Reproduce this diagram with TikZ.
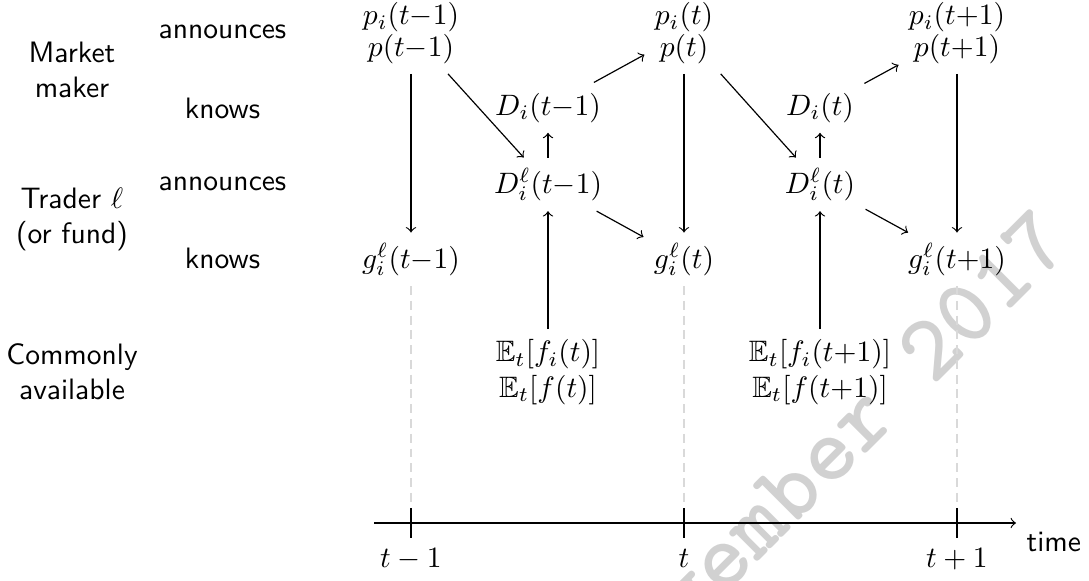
\documentclass[tikz,border=0pt]{standalone}
\usepackage{amssymb}
\usepackage{fontspec}
\begin{document}
\begin{tikzpicture}[x=0.0119cm, y=-0.0119cm,
  lab/.style={font=\sffamily, inner sep=0pt, anchor=base},
  grp/.style={font=\sffamily, align=center, inner sep=0pt},
  mth/.style={anchor=base},
  two/.style={align=center},
  arr/.style={->},
  guide/.style={black!15, densely dashed},
  tick/.style={black},
  wm/.style={rotate=45, anchor=base east, inner sep=0pt, text=black!18,
    font=\ttfamily\bfseries\fontsize{32}{34}\selectfont}]
\useasboundingbox (0,0) rectangle (1089,580);

% watermark
\begin{scope}
\clip (0,0) rectangle (1089,580);
\node[wm] (wm) at (1074,246) {November 2017};
\end{scope}

% row / group labels
\node[grp] (mm) at (72,70) {Market\\maker};
\node[grp] (tr) at (72,219.5) {Trader $\ell$\\(or fund)};
\node[grp] (ca) at (72,371.5) {Commonly\\available};
\node[lab] (an1) at (222.5,38) {announces};
\node[lab] (kn1) at (222.5,118) {knows};
\node[lab] (an2) at (222.5,190) {announces};
\node[lab] (kn2) at (222.5,268) {knows};

% prices
\node[two] (p1) at (411,33) {$p_i(t{-}1)$\\[-1.4pt]$p(t{-}1)$};
\node[two] (p2) at (684,33) {$p_i(t)$\\[-1.4pt]$p(t)$};
\node[two] (p3) at (957,33) {$p_i(t{+}1)$\\[-1.4pt]$p(t{+}1)$};

% market maker knows
\node[mth] (D1) at (548,115) {$D_i(t{-}1)$};
\node[mth] (D2) at (820,115) {$D_i(t)$};

% trader announces
\node[mth] (Dl1) at (548,193) {$D_i^\ell(t{-}1)$};
\node[mth] (Dl2) at (820,193) {$D_i^\ell(t)$};

% trader knows
\node[mth] (g1) at (411,268) {$g_i^\ell(t{-}1)$};
\node[mth] (g2) at (684,268) {$g_i^\ell(t)$};
\node[mth] (g3) at (957,268) {$g_i^\ell(t{+}1)$};

% commonly available
\node[two] (E1) at (548,372) {$\mathbb{E}_t[f_i(t)]$\\$\mathbb{E}_t[f(t)]$};
\node[two] (E2) at (820,372) {$\mathbb{E}_t[f_i(t{+}1)]$\\$\mathbb{E}_t[f(t{+}1)]$};

% time axis
\coordinate (ax0) at (374,523);
\coordinate (ax1) at (1016,523);
\draw[->] (ax0) -- (ax1);
\coordinate (k1a) at (411,508); \coordinate (k1b) at (411,538);
\coordinate (k2a) at (684,508); \coordinate (k2b) at (684,538);
\coordinate (k3a) at (957,508); \coordinate (k3b) at (957,538);
\draw[guide] (g1) -- (k1a);
\draw[guide] (g2) -- (k2a);
\draw[guide] (g3) -- (k3a);
\draw[tick] (k1a) -- (k1b);
\draw[tick] (k2a) -- (k2b);
\draw[tick] (k3a) -- (k3b);
\node[mth] (l1) at (411,567) {$t-1$};
\node[mth] (l2) at (684,567) {$t$};
\node[mth] (l3) at (957,567) {$t+1$};
\node[lab, anchor=base west] (tm) at (1026,551) {time};

% arrows
\draw[arr] (p1) -- (g1);
\draw[arr] (p1) -- (Dl1);
\draw[arr] (Dl1) -- (D1);
\draw[arr] (D1) -- (p2);
\draw[arr] (p2) -- (g2);
\draw[arr] (Dl1) -- (g2);
\draw[arr] (E1) -- (Dl1);
\draw[arr] (p2) -- (Dl2);
\draw[arr] (Dl2) -- (D2);
\draw[arr] (D2) -- (p3);
\draw[arr] (Dl2) -- (g3);
\draw[arr] (p3) -- (g3);
\draw[arr] (E2) -- (Dl2);
\end{tikzpicture}
\end{document}
